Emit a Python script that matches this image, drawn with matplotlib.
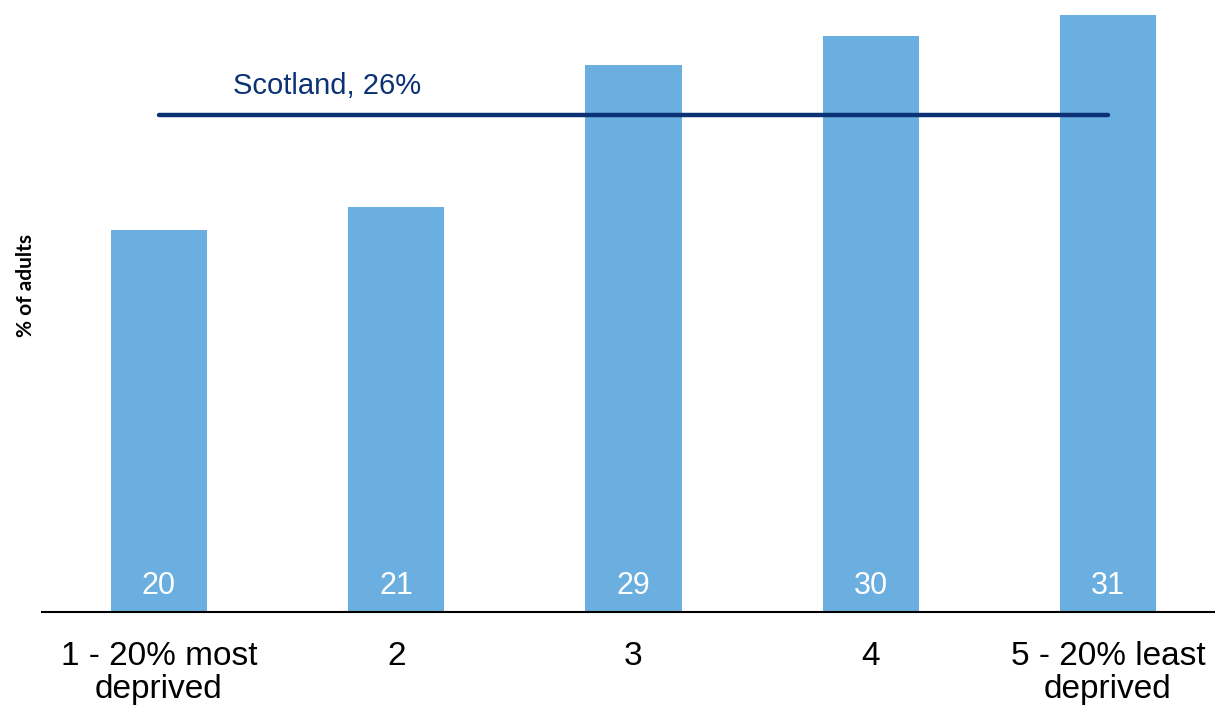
import matplotlib.pyplot as plt
import numpy as np

# données
categories = ["1 - 20% most\ndeprived", "2", "3", "4", "5 - 20% least\ndeprived"]
valeurs = [20.0, 21.2, 28.6, 30.1, 31.2]
etiquettes = ["20", "21", "29", "30", "31"]
scotland = 26
texte_scotland = "Scotland, 26%"

couleur_barre = "#6aafe0"
couleur_ligne = "#0b3274"

plt.rcParams['font.family'] = ['Liberation Sans', 'DejaVu Sans']

fig = plt.figure(figsize=(12.15, 7.09), dpi=100)
ax = fig.add_axes([42/1215, 1 - 612/709, 1 - 42/1215, 612/709])

X = np.arange(len(categories))
ax.bar(X, valeurs, width=0.405, color=couleur_barre, zorder=2)

for i in range(len(X)):
    ax.text(X[i], 0.94, etiquettes[i], ha='center', va='baseline',
            color='white', fontsize=22, zorder=3)

# ligne Scotland
ax.plot([X[0], X[-1]], [scotland, scotland], color=couleur_ligne,
        linewidth=3.2, solid_capstyle='round', zorder=4)
ax.text(0.312, 27.1, texte_scotland, ha='left', va='baseline',
        color=couleur_ligne, fontsize=21)

ax.set_xlim(-0.493, 4.451)
ax.set_ylim(0, 32)
ax.set_xticks(X)
ax.set_xticklabels(categories, fontsize=24, linespacing=1.08)
ax.tick_params(axis='x', length=0, pad=21)
ax.set_yticks([])

for s in ['top', 'right', 'left']:
    ax.spines[s].set_visible(False)
ax.spines['bottom'].set_linewidth(1.5)
ax.spines['bottom'].set_color('black')

fig.text(26/1215, 1 - 285/709, "% of adults", rotation=90, ha='center',
         va='center', fontsize=15, fontweight='bold', family=['Lato', 'DejaVu Sans'])

fig.savefig("out.png", dpi=100)
